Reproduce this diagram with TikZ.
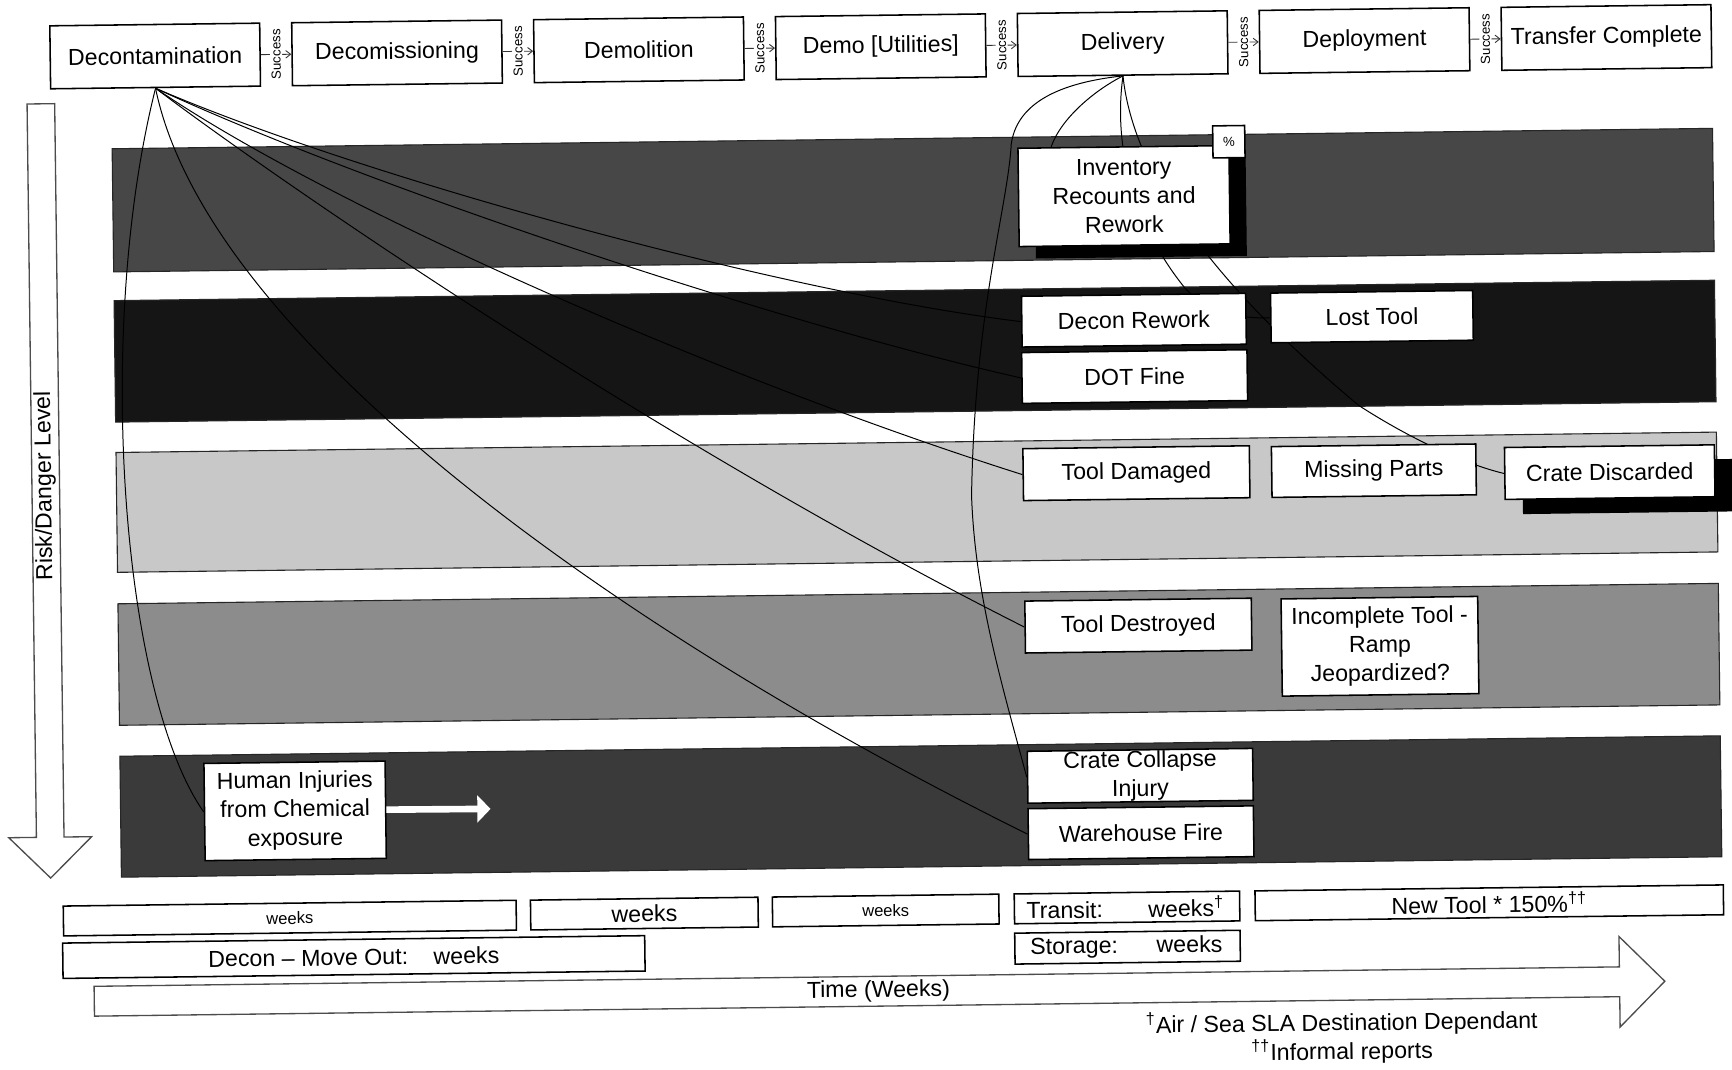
\documentclass[tikz,border=0pt]{standalone}
\usepackage{fontspec}
\setmainfont{Liberation Sans}
\usetikzlibrary{arrows.meta,calc}
\pgfdeclarelayer{bg}
\pgfdeclarelayer{mid}
\pgfsetlayers{bg,mid,main}
\definecolor{bandA}{HTML}{474747}
\definecolor{bandB}{HTML}{151515}
\definecolor{bandC}{HTML}{C8C8C8}
\definecolor{bandD}{HTML}{8C8C8C}
\definecolor{bandE}{HTML}{3A3A3A}
\tikzset{
  box/.style={draw=black, line width=0.7pt, fill=white, inner sep=0pt, align=center, font=\fontsize{10.5}{13}\selectfont},
  topbox/.style={box, minimum width=95pt, minimum height=28.5pt},
  conn/.style={draw=black, line width=0.45pt},
  bandfill/.style={draw=black!85, line width=0.5pt},
  slabel/.style={rotate=90, fill=white, inner sep=0.6pt, font=\fontsize{6}{6}\selectfont},
  succ/.style={draw=black!80, line width=0.4pt, -{Straight Barb[length=2.2pt,width=3.4pt]}},
  hollow/.style={draw=black!70, line width=0.6pt, fill=white},
  txt/.style={inner sep=0pt, font=\fontsize{10.5}{13}\selectfont},
}
\begin{document}
\begin{tikzpicture}[x=0.5pt,y=-0.5pt]
\useasboundingbox (0,0) rectangle (1568,968);
\begin{pgfonlayer}{bg}
\fill[white] (0,0) rectangle (1568,968);
\end{pgfonlayer}
\begin{scope}[rotate around={0.73:(784,484)}, transform shape]
% risk bands
\begin{pgfonlayer}{bg}
\path[bandfill, fill=bandA] (106,126) rectangle (1555,237.5);
\path[bandfill, fill=bandB] (106,263.5) rectangle (1555,373.5);
\path[bandfill, fill=bandC] (106,401) rectangle (1555,509.5);
\path[bandfill, fill=bandD] (106,538) rectangle (1555,648);
\path[bandfill, fill=bandE] (106,676) rectangle (1555,785.5);
\end{pgfonlayer}

% risk arrow
\path[hollow] (29.5,84.5) -- (54.5,84.5) -- (54.5,748.5) -- (79.5,748.5) -- (42,785.5) -- (4.5,748.5) -- (29.5,748.5) -- cycle;
\node[txt, rotate=90] (risk) at (41.5,430.5) {Risk/Danger Level};

% time arrow
\path[hollow] (80,884) -- (1461,884) -- (1461,856.5) -- (1502,897.5) -- (1461,938.5) -- (1461,911) -- (80,911) -- cycle;
\node[txt] (time) at (790,897.5) {Time (Weeks)};

% process boxes
\node[topbox] (dec) at (146,42.5) {Decontamination};
\node[topbox] (dcm) at (365,42.5) {Decomissioning};
\node[topbox] (dem) at (584,42.5) {Demolition};
\node[topbox] (dmu) at (803,42.5) {Demo [Utilities]};
\node[topbox] (del) at (1022,42.5) {Delivery};
\node[topbox] (dep) at (1241,42.5) {Deployment};
\node[topbox] (tc) at (1460,42.5) {Transfer Complete};
\draw[succ] (dec.east) -- node[slabel] (s1) {Success} (dcm.west);
\draw[succ] (dcm.east) -- node[slabel] (s2) {Success} (dem.west);
\draw[succ] (dem.east) -- node[slabel] (s3) {Success} (dmu.west);
\draw[succ] (dmu.east) -- node[slabel] (s4) {Success} (del.west);
\draw[succ] (del.east) -- node[slabel] (s5) {Success} (dep.west);
\draw[succ] (dep.east) -- node[slabel] (s6) {Success} (tc.west);

% shadows
\fill[black] (941,147) rectangle (1132,236);
\fill[black] (1379,425.5) rectangle (1569,473);

% risk nodes
\node[box, minimum width=95.5pt, minimum height=44.5pt] (inv) at (1021.5,180.5) {Inventory\\Recounts and\\Rework};
\node[box, minimum width=14.5pt, minimum height=14.5pt, font=\fontsize{6}{7}\selectfont] (pct) at (1117,132.5) {\%};
\node[box, minimum width=101.5pt, minimum height=23pt] (dr) at (1029,293) {Decon Rework};
\node[box, minimum width=91.5pt, minimum height=22.5pt] (lt) at (1244.5,292.5) {Lost Tool};
\node[box, minimum width=102pt, minimum height=23pt] (dot) at (1029,344) {DOT Fine};
\node[box, minimum width=102.5pt, minimum height=23.5pt] (tdm) at (1029.5,431.5) {Tool Damaged};
\node[box, minimum width=92.5pt, minimum height=23pt] (mp) at (1244.5,432) {Missing Parts};
\node[box, minimum width=95pt, minimum height=23.5pt] (cd) at (1458,436) {Crate Discarded};
\node[box, minimum width=102.5pt, minimum height=23.5pt] (tds) at (1029.5,569.5) {Tool Destroyed};
\node[box, minimum width=89pt, minimum height=44pt] (inc) at (1248,591) {Incomplete Tool -\\Ramp\\Jeopardized?};
\node[box, minimum width=102pt, minimum height=23.5pt] (cc) at (1029.5,705.5) {Crate Collapse\\Injury};
\node[box, minimum width=102pt, minimum height=23pt] (wf) at (1029.5,757) {Warehouse Fire};
\node[box, minimum width=82pt, minimum height=44pt] (hum) at (264,727.5) {Human Injuries\\from Chemical\\exposure};
\coordinate (humarrow) at (441,728);
\draw[white, line width=3pt, -{Triangle[length=6pt,width=12pt]}] (hum.east) -- (humarrow);

% connectors behind the boxes
\begin{pgfonlayer}{mid}
\draw[conn] (dec.south) .. controls (88,290) and (108,620) .. (hum.west);
\draw[conn] (dec.south) .. controls (190,300) and (560,570) .. (wf.west);
\draw[conn] (dec.south) .. controls (260,160) and (600,400) .. (tds.west);
\draw[conn] (dec.south) .. controls (300,180) and (650,340) .. (tdm.west);
\draw[conn] (dec.south) .. controls (330,160) and (700,290) .. (dot.west);
\draw[conn] (dec.south) .. controls (320,150) and (700,262) .. (dr.west);
\draw[conn] (del.south) .. controls (955,78) and (925,100) .. (920,132) .. controls (916,190) and (885,280) .. (880,450) .. controls (882,540) and (905,620) .. (cc.west);
\draw[conn] (del.south) .. controls (995,85) and (965,110) .. ($(inv.north west)!0.16!(inv.north east)$);
\draw[conn] (del.south) .. controls (1010,150) and (1040,220) .. (1076,265) .. controls (1100,290) and (1130,292.5) .. (lt.west);
\draw[conn] (del.south) .. controls (1030,160) and (1100,260) .. (1231.5,372.7) .. controls (1280,405) and (1330,428) .. (cd.west);
\end{pgfonlayer}

% time rows
\node[box, minimum width=205pt, minimum height=13.5pt, font=\fontsize{7.5}{9}\selectfont] (wka) at (258,824.5) {weeks};
\node[box, minimum width=103pt, minimum height=13.5pt] (wkb) at (579,824.5) {weeks};
\node[box, minimum width=102.5pt, minimum height=13.5pt, font=\fontsize{7.5}{9}\selectfont] (wkc) at (797.5,824.5) {weeks};
\node[box, minimum width=102pt, minimum height=13.5pt, text width=91pt, align=left] (tr) at (1016,824.5) {Transit:\hspace{20.5pt}weeks\textsuperscript{†}};
\node[box, minimum width=212pt, minimum height=13.5pt] (nt) at (1344,824.5) {New Tool * 150\%\textsuperscript{††}};
\node[box, minimum width=263.5pt, minimum height=16pt] (dmo) at (315.5,860.5) {Decon -- Move Out:\hspace{11.5pt}weeks};
\node[box, minimum width=102pt, minimum height=14pt, text width=88pt, align=left] (st) at (1016,860.5) {Storage:\hspace{17.5pt}weeks};

% footnotes
\node[txt] (fn1) at (1209,931.5) {\textsuperscript{†}Air / Sea SLA Destination Dependant};
\node[txt] (fn2) at (1209,957.5) {\textsuperscript{††}Informal reports};
\end{scope}
\end{tikzpicture}
\end{document}
